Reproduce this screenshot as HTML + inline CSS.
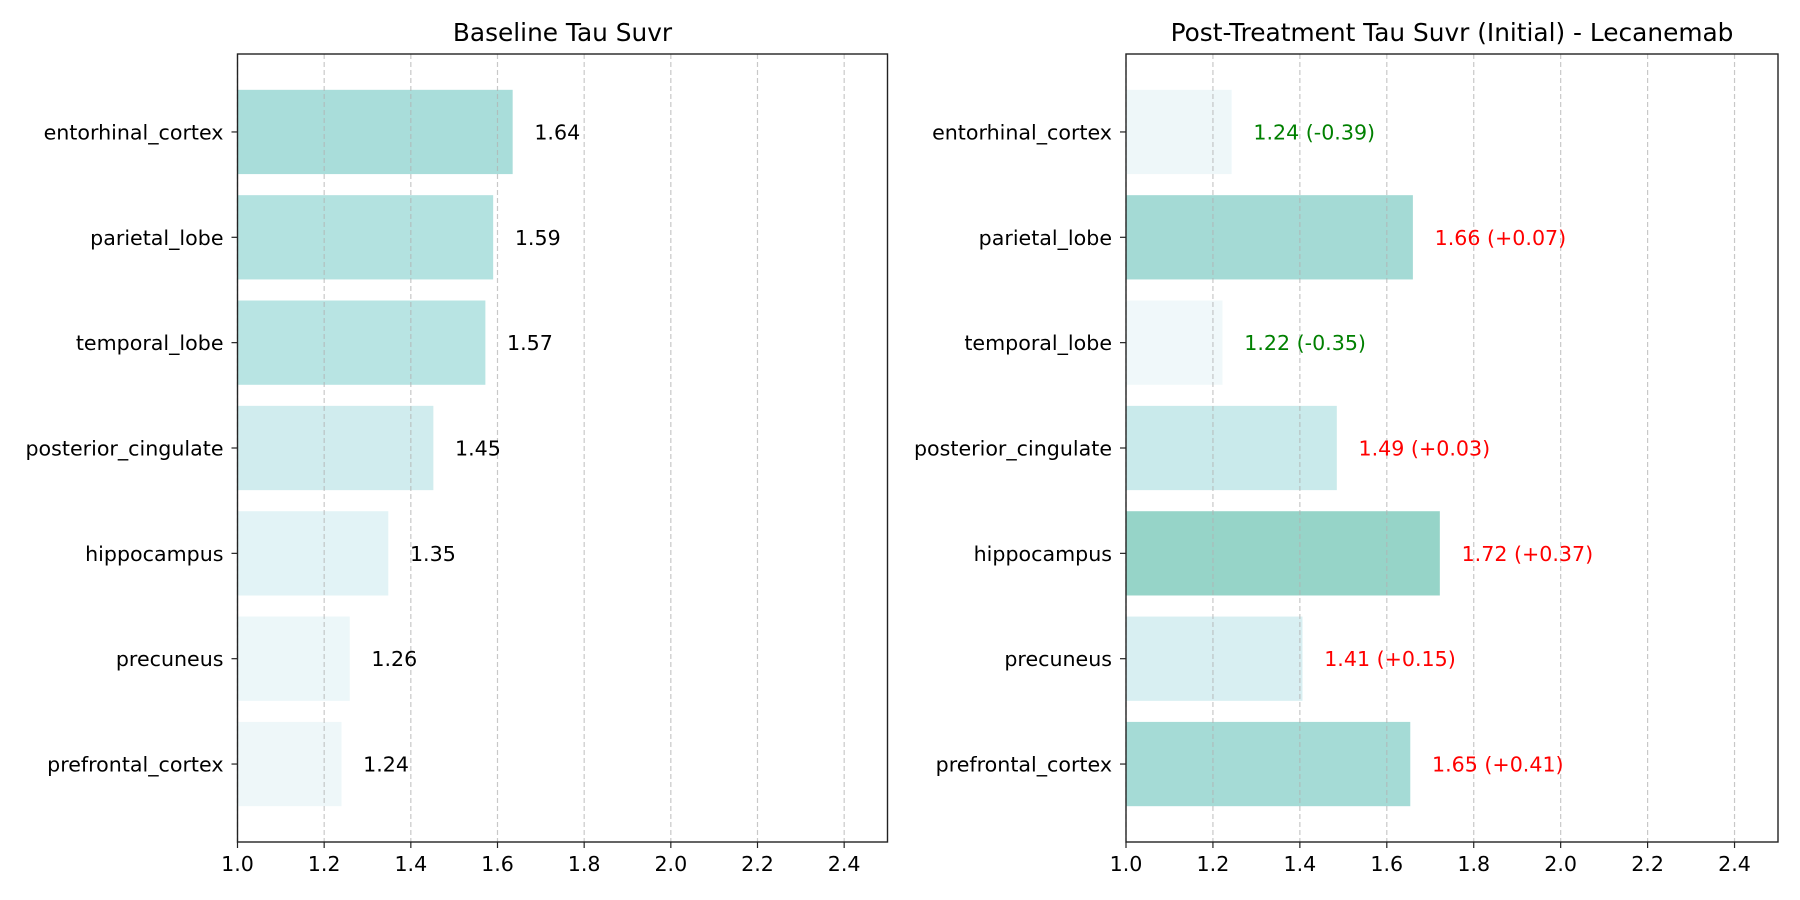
<!DOCTYPE html>
<html><head><meta charset="utf-8"><style>
html,body{margin:0;padding:0;background:#fff;}
svg{display:block;font-family:"DejaVu Sans","Liberation Sans",sans-serif;}
</style></head><body>
<svg id="chart" width="1800" height="900" xmlns="http://www.w3.org/2000/svg"></svg>
<script>
const categories = ["entorhinal_cortex","parietal_lobe","temporal_lobe","posterior_cingulate","hippocampus","precuneus","prefrontal_cortex"];
const baselineValues = [1.635, 1.59, 1.572, 1.452, 1.348, 1.259, 1.24];
const postValues = [1.243, 1.66, 1.222, 1.485, 1.722, 1.406, 1.654];
const baselineLabels = ["1.64","1.59","1.57","1.45","1.35","1.26","1.24"];
const postLabels = ["1.24 (-0.39)","1.66 (+0.07)","1.22 (-0.35)","1.49 (+0.03)","1.72 (+0.37)","1.41 (+0.15)","1.65 (+0.41)"];
const postDeltas = [-0.39, 0.07, -0.35, 0.03, 0.37, 0.15, 0.41];
const xTicks = [1.0,1.2,1.4,1.6,1.8,2.0,2.2,2.4];
const xMin = 1.0, xMax = 2.5;

const svg = document.getElementById('chart');
const NS = 'http://www.w3.org/2000/svg';
function mk(tag, attrs, parent){const e=document.createElementNS(NS,tag);for(const k in attrs)e.setAttribute(k,attrs[k]);(parent||svg).appendChild(e);return e;}
const cStops=[[1.22,[240,248,250]],[1.35,[226,243,246]],[1.45,[208,236,238]],[1.57,[184,228,227]],[1.64,[168,220,217]],[1.72,[150,212,200]]];
function colorFor(v){
  if(v<=cStops[0][0]) return `rgb(${cStops[0][1].join(',')})`;
  for(let k=1;k<cStops.length;k++){
    if(v<=cStops[k][0]){
      const t=(v-cStops[k-1][0])/(cStops[k][0]-cStops[k-1][0]);
      const c=cStops[k-1][1].map((x,i)=>Math.round(x+(cStops[k][1][i]-x)*t));
      return `rgb(${c.join(',')})`;
    }
  }
  return `rgb(${cStops[cStops.length-1][1].join(',')})`;
}
const plotTop=54, plotBottom=842;
function yScale(i){return plotTop+(i+0.74)*(plotBottom-plotTop)/7.48;}
const bandH=0.8*(plotBottom-plotTop)/7.48;

function panel(x0,x1,title,values,labels,labelColors,prefix){
  const xs=v=>x0+(v-xMin)/(xMax-xMin)*(x1-x0);
  const g=mk('g',{});
  
  
  values.forEach((v,i)=>{
    const r=mk('rect',{x:xs(xMin),y:yScale(i)-bandH/2,width:xs(v)-xs(xMin),height:bandH,fill:colorFor(v)},g);
    
    
  });
  xTicks.forEach(t=>{
    const l=mk('line',{x1:xs(t),x2:xs(t),y1:plotTop,y2:plotBottom,stroke:'#b0b0b0','stroke-opacity':0.7,'stroke-width':1.2,'stroke-dasharray':'5,3'},g);
    
    
    mk('line',{x1:xs(t),x2:xs(t),y1:plotBottom,y2:plotBottom+6,stroke:'#222','stroke-width':1.2},g);
    const tx=mk('text',{x:xs(t),y:plotBottom+29,'text-anchor':'middle','font-size':20.6,fill:'#000'},g);
    tx.textContent=t.toFixed(1);
    
    
  });
  categories.forEach((c,i)=>{
    mk('line',{x1:x0-6,x2:x0,y1:yScale(i),y2:yScale(i),stroke:'#222','stroke-width':1.2},g);
    const tx=mk('text',{x:x0-14,y:yScale(i)+7.5,'text-anchor':'end','font-size':20.6,fill:'#000'},g);
    tx.textContent=c;
    
    
  });
  values.forEach((v,i)=>{
    const tx=mk('text',{x:xs(v+0.05),y:yScale(i)+7.5,'font-size':20.6,fill:labelColors[i]},g);
    tx.textContent=labels[i];
    
    
  });
  const fr=mk('rect',{x:x0,y:plotTop,width:x1-x0,height:plotBottom-plotTop,fill:'none',stroke:'#222','stroke-width':1.4},g);
  
  
  const tt=mk('text',{x:(x0+x1)/2,y:41,'text-anchor':'middle','font-size':24.8,fill:'#000'},g);
  tt.textContent=title;
  
  
}
panel(237.5,887.5,'Baseline Tau Suvr',baselineValues,baselineLabels,baselineValues.map(()=> '#000'),'baseline');
panel(1126,1778,'Post-Treatment Tau Suvr (Initial) - Lecanemab',postValues,postLabels,postDeltas.map(d=>d<0?'green':'red'),'post');
</script>
</body></html>
